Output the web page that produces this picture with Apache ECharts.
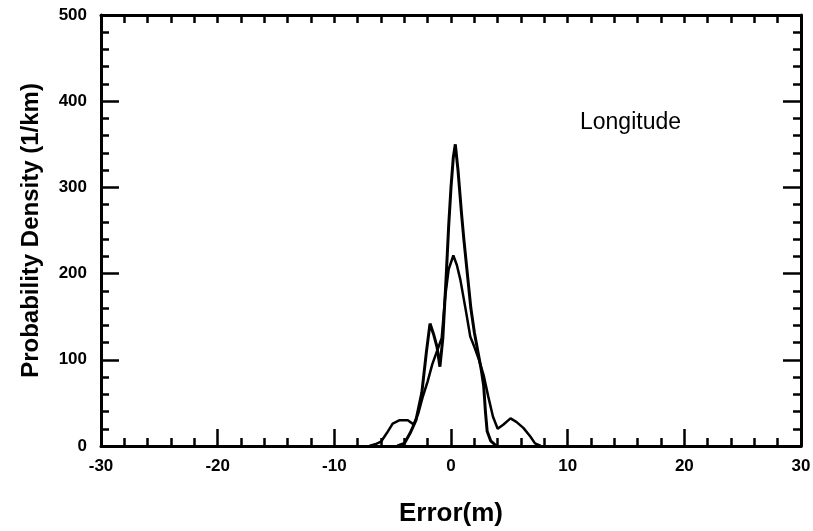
<!DOCTYPE html>
<html>
<head>
<meta charset="utf-8">
<script src="https://cdn.jsdelivr.net/npm/echarts@6/dist/echarts.min.js"></script>
<style>html,body{margin:0;padding:0;background:#fff}#c{width:813px;height:531px}</style>
</head>
<body>
<div id="c"></div>
<script>
// Error (m) / density (1/km) pairs
var sharpX = [-4.6, -4.0, -3.5, -3.0, -2.5, -2.1, -1.8, -1.5, -1.2, -0.95, -0.7, -0.4, -0.2, 0.0, 0.2, 0.37, 0.6, 0.9, 1.1, 1.4, 1.7, 2.0, 2.3, 2.6, 2.8, 2.95, 3.1, 3.4, 3.9];
var sharpY = [0, 3, 15, 30, 62, 110, 142, 130, 115, 92, 125, 200, 255, 300, 335, 350, 320, 270, 240, 200, 160, 132, 110, 88, 70, 40, 17, 6, 0];
var broadX = [-7.0, -6.5, -6.0, -5.5, -5.0, -4.4, -3.7, -3.2, -2.8, -2.4, -2.0, -1.6, -1.2, -0.8, -0.5, -0.2, 0.2, 0.5, 0.8, 1.3, 1.65, 2.0, 2.4, 2.8, 3.2, 3.6, 4.0, 4.5, 5.1, 5.6, 6.2, 6.8, 7.2, 7.7];
var broadY = [0, 2, 5, 15, 26, 30, 30, 25, 38, 58, 75, 95, 110, 125, 173, 205, 221, 210, 193, 155, 127, 115, 100, 82, 57, 34, 20, 25, 32, 28, 21, 11, 3, 0];
var xTicks = [-30, -20, -10, 0, 10, 20, 30];
var yTicks = [0, 100, 200, 300, 400, 500];
var panelLabel = 'Longitude';
var xName = 'Error(m)';
var yName = 'Probability Density (1/km)';

function pairs(xs, ys) { return xs.map(function (x, i) { return [x, ys[i]]; }); }

var chart = echarts.init(document.getElementById('c'), null, { renderer: 'canvas' });
var axisLine = { show: true, onZero: false, lineStyle: { color: '#000', width: 3 } };
var lblFont = { color: '#000', fontFamily: 'Liberation Sans', fontWeight: 'bold', fontSize: 17 };
chart.setOption({
  animation: false,
  backgroundColor: '#fff',
  grid: { left: 101, right: 12, top: 15, bottom: 85, containLabel: false, outerBoundsMode: 'none' },
  xAxis: [{
    type: 'value', min: xTicks[0], max: xTicks[xTicks.length - 1], interval: 10,
    position: 'bottom',
    axisLine: axisLine,
    axisTick: { show: true, inside: true, length: 17, lineStyle: { color: '#000', width: 2.5 } },
    minorTick: { show: true, splitNumber: 5, length: 8, lineStyle: { color: '#000', width: 2.5 } },
    splitLine: { show: false },
    axisLabel: Object.assign({ margin: 12 }, lblFont),
    name: xName, nameLocation: 'middle', nameGap: 55,
    nameTextStyle: { color: '#000', fontFamily: 'Liberation Sans', fontWeight: 'bold', fontSize: 26 }
  }, {
    type: 'value', min: xTicks[0], max: xTicks[xTicks.length - 1], interval: 10,
    position: 'top',
    axisLine: axisLine,
    axisTick: { show: true, inside: true, length: 8, lineStyle: { color: '#000', width: 2.5 } },
    minorTick: { show: true, splitNumber: 5, length: 8, lineStyle: { color: '#000', width: 2.5 } },
    splitLine: { show: false },
    axisLabel: { show: false }
  }],
  yAxis: [{
    type: 'value', min: yTicks[0], max: yTicks[yTicks.length - 1], interval: 100,
    position: 'left',
    axisLine: axisLine,
    axisTick: { show: true, inside: true, length: 18, lineStyle: { color: '#000', width: 2.5 } },
    minorTick: { show: true, splitNumber: 5, length: 8, lineStyle: { color: '#000', width: 2.5 } },
    splitLine: { show: false },
    axisLabel: Object.assign({ margin: 14 }, lblFont),
    name: yName, nameLocation: 'middle', nameGap: 58, nameRotate: 90,
    nameTextStyle: { color: '#000', fontFamily: 'Liberation Sans', fontWeight: 'bold', fontSize: 24 }
  }, {
    type: 'value', min: yTicks[0], max: yTicks[yTicks.length - 1], interval: 100,
    position: 'right',
    axisLine: axisLine,
    axisTick: { show: true, inside: true, length: 18, lineStyle: { color: '#000', width: 2.5 } },
    minorTick: { show: true, splitNumber: 5, length: 8, lineStyle: { color: '#000', width: 2.5 } },
    splitLine: { show: false },
    axisLabel: { show: false }
  }],
  graphic: [{
    type: 'text', left: 580, top: 111,
    style: { text: panelLabel, fill: '#000', font: '23px "Liberation Sans"' }
  }],
  series: [{
    type: 'line', xAxisIndex: 0, yAxisIndex: 0, showSymbol: false, symbol: 'none',
    data: pairs(broadX, broadY),
    lineStyle: { color: '#000', width: 2.5 }
  }, {
    type: 'line', xAxisIndex: 0, yAxisIndex: 0, showSymbol: false, symbol: 'none',
    data: pairs(sharpX, sharpY),
    lineStyle: { color: '#000', width: 3 }
  }]
});
</script>
</body>
</html>
